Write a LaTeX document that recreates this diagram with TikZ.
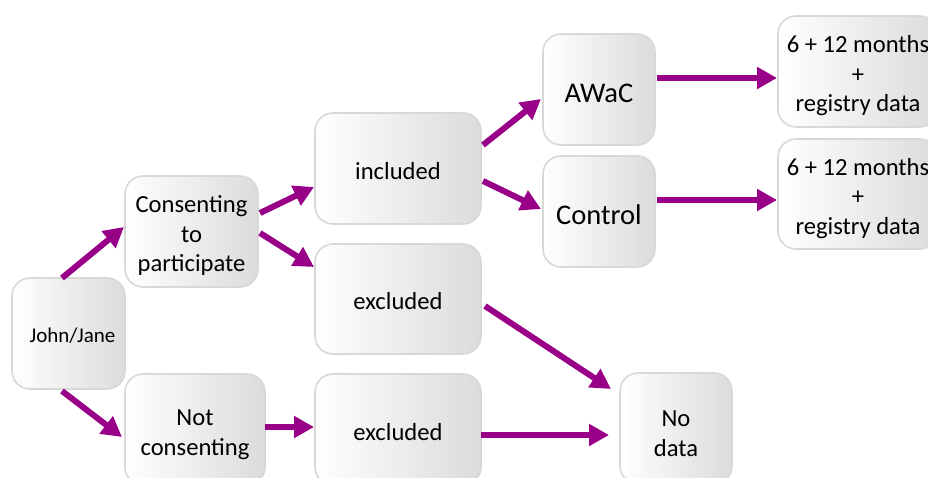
\documentclass[tikz,border=0pt]{standalone}
\usepackage{fontspec}
\setmainfont{Carlito}
\usetikzlibrary{arrows.meta}
\definecolor{pcol}{RGB}{153,0,136}
\definecolor{bord}{RGB}{216,216,216}
\newcommand{\dropstrut}{\rule{0pt}{1.05em}}
\tikzset{
  box/.style={draw=bord, line width=1.6pt, rounded corners=18pt, left color=white, right color=black!14,
    align=center, inner sep=0pt, font=\fontsize{24.6}{29.5}\selectfont, text=black},
  onebox/.style={box, execute at begin node={\rule{0pt}{0.9em}}},
  arr/.style={draw=pcol, line width=6pt, -{Triangle[length=20pt,width=21pt]}},
}
\begin{document}
\begin{tikzpicture}[x=1pt,y=-1pt]
\useasboundingbox (0,0) rectangle (928,477);
\clip (0,0) rectangle (928,477);
\node[onebox, minimum width=113pt, minimum height=111pt, font=\fontsize{21}{26}\selectfont] (john) at (68.5,333.5) {\hspace*{8pt}John/Jane};
\node[box, minimum width=133pt, minimum height=111pt] (cons) at (191.5,231.5) {\dropstrut Consenting\\to\\participate};
\node[box, minimum width=140pt, minimum height=111pt] (notc) at (195,429.5) {\dropstrut Not\\consenting};
\node[onebox, minimum width=166pt, minimum height=111pt] (incl) at (398,168.5) {included};
\node[onebox, minimum width=166pt, minimum height=110pt] (exc1) at (398,299) {excluded};
\node[onebox, minimum width=166pt, minimum height=111pt] (exc2) at (398,429.5) {excluded};
\node[onebox, minimum width=112pt, minimum height=111pt, font=\fontsize{28.5}{30}\selectfont] (awac) at (599,89.5) {AWaC};
\node[onebox, minimum width=112pt, minimum height=111pt, font=\fontsize{28.5}{30}\selectfont] (ctrl) at (599,211.5) {Control};
\node[box, minimum width=160pt, minimum height=111pt] (out1) at (858,71.5) {\dropstrut 6 + 12 months\\+\\registry data};
\node[box, minimum width=160pt, minimum height=110pt] (out2) at (858,194) {\dropstrut 6 + 12 months\\+\\registry data};
\node[box, minimum width=112pt, minimum height=111pt] (nod) at (676,428.5) {\dropstrut No\\data};
% connector end points
\coordinate (j1) at (62,278); \coordinate (c1) at (124,227);
\coordinate (j2) at (62,391); \coordinate (n2) at (122,437);
\coordinate (c3) at (260,213); \coordinate (i3) at (314,187);
\coordinate (c4) at (260,233); \coordinate (e4) at (314,267);
\coordinate (n5) at (265,427); \coordinate (e5) at (314,427);
\coordinate (i6) at (483,145); \coordinate (a6) at (541,99);
\coordinate (i7) at (483,181); \coordinate (t7) at (541,209);
\coordinate (a8) at (657,78); \coordinate (o8) at (777,78);
\coordinate (t9) at (657,200); \coordinate (o9) at (777,200);
\coordinate (e10) at (485,306); \coordinate (d10) at (611,389);
\coordinate (e11) at (481,435); \coordinate (d11) at (609,435);
\draw[arr] (j1) -- (c1);
\draw[arr] (j2) -- (n2);
\draw[arr] (c3) -- (i3);
\draw[arr] (c4) -- (e4);
\draw[arr] (n5) -- (e5);
\draw[arr] (i6) -- (a6);
\draw[arr] (i7) -- (t7);
\draw[arr] (a8) -- (o8);
\draw[arr] (t9) -- (o9);
\draw[arr] (e10) -- (d10);
\draw[arr] (e11) -- (d11);
\end{tikzpicture}
\end{document}
